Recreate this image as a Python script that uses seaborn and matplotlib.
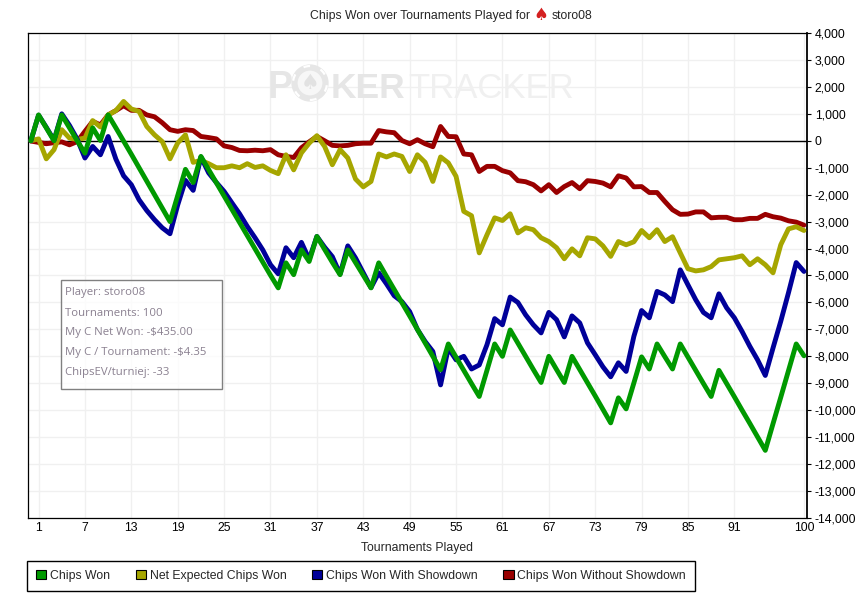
import matplotlib
matplotlib.use("Agg")
import matplotlib.pyplot as plt
from matplotlib.patches import Circle, Patch, Rectangle
from matplotlib.transforms import IdentityTransform
import pandas as pd
import seaborn as sns

# Nilai, indeks 0..100
chips_won = [
    0, 960, 480, 0, 960, 480, 0, -460, 480, 10, 960, 480, -10, -500, -1000, -1500, -2000, -2500, -3000, -2030,
    -1060, -1550, -580, -1070, -1560, -2050, -2540, -3030, -3520, -4010, -4500, -4990, -5460, -4530, -4970, -4050, -4480, -3550, -4030, -4510,
    -4970, -4050, -4520, -4990, -5460, -4530, -5030, -5520, -6010, -6500, -7000, -7500, -8000, -8500, -7540, -8030, -8520, -9010, -9490, -8520,
    -7540, -8000, -7020, -7510, -8000, -8490, -8970, -8000, -8490, -8970, -8000, -8490, -8980, -9470, -9970, -10470, -9540, -9950, -8990, -8020,
    -8470, -7540, -8010, -8470, -7540, -8030, -8520, -9010, -9490, -8520, -9010, -9500, -10000, -10490, -10990, -11490, -10500, -9520, -8530, -7540,
    -7980,
]
net_expected = [
    0, 70, -670, -330, 410, 100, 50, 100, 750, 510, 960, 1120, 1460, 1180, 1090, 530, 220, -30, -670, -80,
    220, -800, -730, -850, -1000, -1000, -930, -1000, -850, -990, -930, -1100, -1220, -520, -1080, -450, -90, 190, -210, -890,
    -330, -640, -1420, -1710, -1510, -490, -600, -490, -580, -1140, -520, -800, -1510, -600, -820, -1320, -2620, -2780, -4160, -3490,
    -2860, -2960, -2710, -3420, -3230, -3300, -3600, -3740, -3970, -4380, -4010, -4270, -3600, -3640, -3900, -4290, -3740, -3860, -3750, -3330,
    -3600, -3300, -3740, -3560, -4160, -4750, -4830, -4790, -4670, -4420, -4380, -4340, -4270, -4600, -4380, -4600, -4900, -3860, -3270, -3190,
    -3330,
]
with_showdown = [
    0, 950, 500, 20, 1000, 570, 60, -640, -210, -520, 160, -680, -1300, -1630, -2190, -2590, -2930, -3230, -3450, -2380,
    -1470, -1840, -600, -1190, -1550, -1880, -2300, -2710, -3180, -3600, -4050, -4600, -4940, -3970, -4340, -3770, -4400, -3550, -3950, -4300,
    -4950, -3900, -4350, -4900, -5450, -4900, -5310, -5750, -5970, -6340, -7000, -7450, -7820, -9060, -7690, -8130, -8000, -8470, -8320, -7570,
    -6600, -6830, -5800, -6000, -6460, -6830, -7130, -6370, -6640, -7280, -6500, -6760, -7500, -7940, -8390, -8760, -8240, -8560, -7260, -6300,
    -6570, -5590, -5720, -5970, -4790, -5350, -5900, -6370, -6570, -5680, -6200, -6570, -7080, -7630, -8130, -8710, -7690, -6700, -5640, -4520,
    -4850,
]
without_showdown = [
    -10, -60, -110, -70, -40, -150, -30, 350, 720, 590, 960, 1120, 1300, 1130, 1130, 960, 890, 670, 410, 350,
    410, 380, 160, 120, 70, -190, -250, -360, -370, -350, -370, -330, -520, -580, -620, -260, -40, 160, 0, -170,
    -190, -170, -110, -90, -90, 380, 330, 300, 10, -110, 40, -110, -220, 530, 160, 150, -490, -520, -1140, -950,
    -950, -1110, -1190, -1480, -1520, -1630, -1860, -1630, -1920, -1700, -1550, -1780, -1480, -1510, -1570, -1710, -1300, -1380, -1710, -1700,
    -1920, -1920, -2250, -2560, -2730, -2720, -2640, -2640, -2860, -2840, -2840, -2930, -2930, -2880, -2880, -2730, -2820, -2870, -2970, -3020,
    -3130,
]
tournaments = list(range(101))
x_ticks = [1, 7, 13, 19, 25, 31, 37, 43, 49, 55, 61, 67, 73, 79, 85, 91, 100]
y_ticks = list(range(-14000, 5000, 1000))

series_names = ["Chips Won", "Net Expected Chips Won", "Chips Won With Showdown", "Chips Won Without Showdown"]
draw_order = ["Chips Won Without Showdown", "Net Expected Chips Won", "Chips Won With Showdown", "Chips Won"]
series_colors = {
    "Chips Won": "#009900",
    "Net Expected Chips Won": "#a6a600",
    "Chips Won With Showdown": "#000099",
    "Chips Won Without Showdown": "#990000",
}
info_lines = ["Player: storo08", "Tournaments: 100", "My C Net Won: -$435.00",
              "My C / Tournament: -$4.35", "ChipsEV/turniej: -33"]

df = pd.DataFrame({
    "tournament": tournaments,
    "Chips Won": chips_won,
    "Net Expected Chips Won": net_expected,
    "Chips Won With Showdown": with_showdown,
    "Chips Won Without Showdown": without_showdown,
}).melt(id_vars="tournament", var_name="series", value_name="chips")

sns.set_style("white")
plt.rcParams["font.family"] = ["Liberation Sans", "DejaVu Sans"]

W, H = 863, 609
fig = plt.figure(figsize=(W / 100, H / 100), dpi=100)
ax = fig.add_axes([27.5 / W, 1 - 518 / H, (806.5 - 27.5) / W, (518 - 33) / H])


def px(x, y):
    return x / W, 1 - y / H


# grid dulu, lalu garis
ax.set_axisbelow(True)
ax.grid(True, color="#f0f0f0", lw=1.0)
ax.axhline(0, color="black", lw=1, zorder=1.5)

sns.lineplot(
    data=df, x="tournament", y="chips", hue="series",
    hue_order=draw_order,
    palette=series_colors, estimator=None, sort=False, legend=False,
    lw=3.5, solid_joinstyle="round", ax=ax, zorder=3,
)

ax.set_xlim(-0.43, 100.33)
ax.set_ylim(-14000, 4000)
ax.set_xticks(x_ticks)
ax.set_yticks(y_ticks)
ax.set_yticklabels([f"{v:,}" for v in y_ticks])
ax.yaxis.tick_right()
ax.tick_params(axis="y", direction="out", length=3, width=0.8, color="black",
               labelsize=8.8, pad=3, labelcolor="black", right=True)
ax.tick_params(axis="x", length=0, labelsize=8.8, pad=3, labelcolor="black")
ax.set_xlabel("")
ax.set_ylabel("")
for side in ax.spines:
    ax.spines[side].set_visible(True)
    ax.spines[side].set_color("black")
    ax.spines[side].set_linewidth(0.9)
ax.spines["right"].set_linewidth(1.3)

# watermark, huruf O diganti chip
fig.text(*px(267, 98), "P", fontsize=27, fontweight="bold", color="#e6e6e6",
         family=["Liberation Sans"], va="baseline", zorder=1.2)
fig.add_artist(Circle((310, H - 83), 15.5, transform=IdentityTransform(),
                      facecolor="#f7f7f7", edgecolor="#e6e6e6", lw=4.5, zorder=1.2))
fig.add_artist(Circle((310, H - 83), 17, transform=IdentityTransform(),
                      facecolor="none", edgecolor="white", lw=1.6, ls=(0, (3, 5)), zorder=1.25))
fig.text(*px(310, 83), "\u2660", fontsize=15, color="#e2e2e2", family=["DejaVu Sans"],
         ha="center", va="center", zorder=1.3)
fig.text(*px(331, 98), "KER", fontsize=25.5, fontweight="bold", color="#e6e6e6",
         family=["Liberation Sans"], va="baseline", zorder=1.2)
fig.text(*px(408, 98), "TRACKER", fontsize=25, color="#f0f0f0",
         family=["Liberation Sans"], va="baseline", zorder=1.2)

# judul dengan ikon spade
fig.text(*px(310, 16), "Chips Won over Tournaments Played for", fontsize=8.8, va="center", ha="left")
fig.text(*px(541, 15), "\u2660", fontsize=12, color="#d42020", va="center", ha="center",
         family=["DejaVu Sans"])
fig.text(*px(552, 16), "storo08", fontsize=8.8, va="center", ha="left")
fig.text(*px(417, 548), "Tournaments Played", fontsize=8.8, va="center", ha="center")

# kotak info
fig.add_artist(Rectangle(px(60.5, 389), 161.5 / W, 109 / H, transform=fig.transFigure,
                         facecolor="white", alpha=0.75, edgecolor="none", zorder=4))
fig.add_artist(Rectangle(px(60.5, 389), 161.5 / W, 109 / H, transform=fig.transFigure,
                         facecolor="none", edgecolor="#808080", lw=1, zorder=5))
for y_px, line in zip([293, 313, 333, 353, 372], info_lines):
    fig.text(*px(65, y_px), line, fontsize=8.2, color="#8a8090", va="center", ha="left",
             family=["Open Sans"], zorder=6)

# legend
handles = [Patch(facecolor=series_colors[n], edgecolor="black", lw=0.8, label=n) for n in series_names]
leg = fig.legend(
    handles=handles, loc="lower left", bbox_to_anchor=px(27, 590.5), ncol=4,
    fontsize=8.8, frameon=True, fancybox=False, edgecolor="black", facecolor="white",
    framealpha=1, handlelength=0.85, handleheight=0.85, handletextpad=0.3,
    columnspacing=2.1, borderpad=0.72, borderaxespad=0,
)
leg.get_frame().set_linewidth(1)

fig.savefig("out.png", dpi=100)
